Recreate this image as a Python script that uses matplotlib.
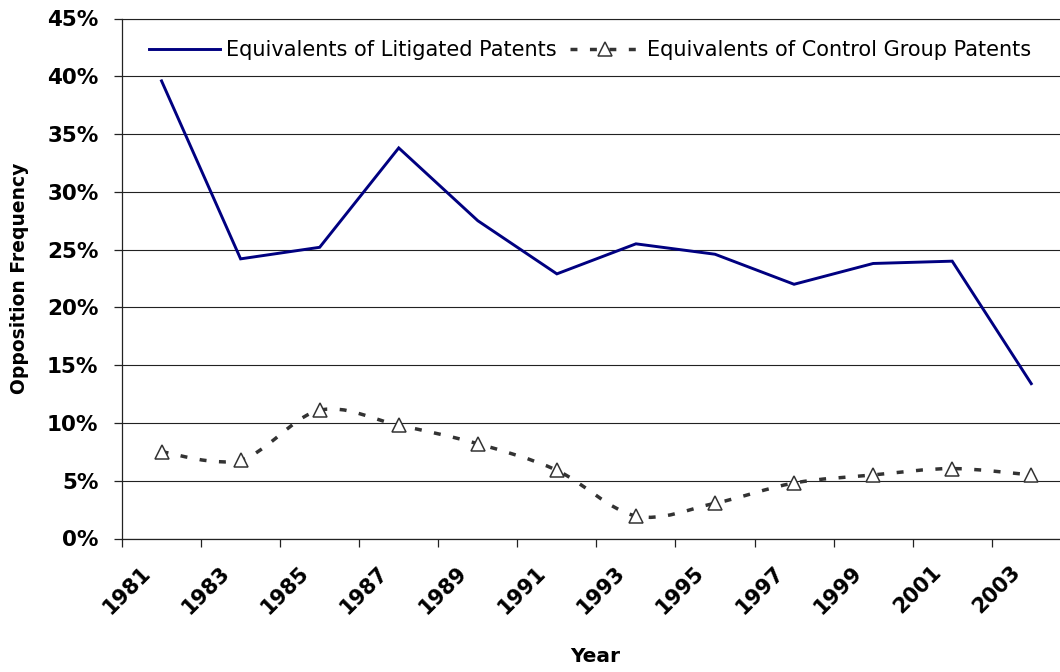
import numpy as np
import matplotlib
matplotlib.use("Agg")
import matplotlib.pyplot as plt
from matplotlib.path import Path
from matplotlib.patches import PathPatch
from matplotlib.lines import Line2D
from matplotlib.ticker import FuncFormatter, FixedLocator
import matplotlib.transforms as mtransforms

years = ["1981", "1983", "1985", "1987", "1989", "1991",
         "1993", "1995", "1997", "1999", "2001", "2003"]
litigated = [39.6, 24.2, 25.2, 33.8, 27.5, 22.9, 25.5, 24.6, 22.0, 23.8, 24.0, 13.4]
control = [7.5, 6.8, 11.1, 9.8, 8.2, 5.9, 1.95, 3.05, 4.8, 5.5, 6.05, 5.5]
yticks = [0, 5, 10, 15, 20, 25, 30, 35, 40, 45]

plt.rcParams['font.family'] = ['DejaVu Sans']

W, H = 1060, 672
fig = plt.figure(figsize=(W / 100, H / 100), dpi=100)
left_px, right_px, top_px, bot_px = 122, 1070.8, 18.5, 538.5
ax = fig.add_axes([left_px / W, 1 - bot_px / H, (right_px - left_px) / W, (bot_px - top_px) / H])

x = np.arange(len(years))
ax.set_xlim(-0.5, len(years) - 0.5)
ax.set_ylim(0, 45)

# Litigated line
ax.plot(x, litigated, color="#000080", lw=2.1, solid_joinstyle="miter", zorder=4)

# Smoothed control line (Bezier through data points)
pts = np.column_stack([x, control]).astype(float)
verts = [tuple(pts[0])]
codes = [Path.MOVETO]
n = len(pts)
for i in range(n - 1):
    p0 = pts[i - 1] if i > 0 else pts[i]
    p1 = pts[i]
    p2 = pts[i + 1]
    p3 = pts[i + 2] if i + 2 < n else pts[i + 1]
    c1 = p1 + (p2 - p0) / 6.0
    c2 = p2 - (p3 - p1) / 6.0
    verts += [tuple(c1), tuple(c2), tuple(p2)]
    codes += [Path.CURVE4] * 3
dash = (0, (2.0, 3.6))
patch = PathPatch(Path(verts, codes), fill=False, edgecolor="#333333", lw=2.5,
                  linestyle=dash, capstyle="butt", zorder=3)
ax.add_patch(patch)
ax.plot(x, control, linestyle="none", marker="^", markersize=9.8,
        markerfacecolor="white", markeredgecolor="#333333", markeredgewidth=1.1, zorder=5)

# grid
ax.yaxis.set_major_locator(FixedLocator(yticks))
ax.yaxis.set_major_formatter(FuncFormatter(lambda v, p: f"{int(round(v))}%"))
ax.grid(axis="y", color="#222222", lw=0.8, zorder=0)
ax.set_axisbelow(True)

# x ticks: labels at centers, tick marks at boundaries
ax.set_xticks(x)
ax.set_xticklabels(years)
ax.set_xticks(np.arange(-0.5, len(years), 1.0), minor=True)
ax.tick_params(axis="x", which="major", length=0, pad=17)
ax.tick_params(axis="x", which="minor", length=6, width=0.9, color="#222222", direction="out")
ax.tick_params(axis="y", length=6, width=0.9, color="#222222", direction="out", pad=11)

offset = mtransforms.ScaledTranslation(-21 / 100, 0, fig.dpi_scale_trans)
for lab in ax.get_xticklabels():
    lab.set_rotation(45)
    lab.set_ha("right")
    lab.set_va("top")
    lab.set_rotation_mode("anchor")
    lab.set_fontsize(15)
    lab.set_fontweight("bold")
    lab.set_transform(lab.get_transform() + offset)
for lab in ax.get_yticklabels():
    lab.set_fontsize(15.5)
    lab.set_fontweight("bold")

ax.spines["right"].set_visible(False)
for s in ["left", "bottom", "top"]:
    ax.spines[s].set_color("#222222")
ax.spines["top"].set_linewidth(0.8)
ax.spines["left"].set_linewidth(0.9)
ax.spines["bottom"].set_linewidth(0.9)

fig.text(20 / W, 1 - 278 / H, "Opposition Frequency", rotation=90, ha="center", va="center",
         fontsize=13.5, fontweight="bold")
fig.text(595 / W, 1 - 657 / H, "Year", ha="center", va="center", fontsize=14.5, fontweight="bold")

h1 = Line2D([], [], color="#000080", lw=2.1)
h2 = Line2D([], [], color="#333333", lw=2.5, linestyle=dash, marker="^", markersize=9.8,
            markerfacecolor="white", markeredgecolor="#333333", markeredgewidth=1.1)
leg = fig.legend([h1, h2], ["Equivalents of Litigated Patents", "Equivalents of Control Group Patents"],
                 loc="center", bbox_to_anchor=(590 / W, 1 - 50 / H), ncol=2, frameon=False,
                 fontsize=15, handlelength=3.4, handletextpad=0.3, columnspacing=0.6,
                 borderaxespad=0, borderpad=0)

fig.savefig("out.png", dpi=100)
